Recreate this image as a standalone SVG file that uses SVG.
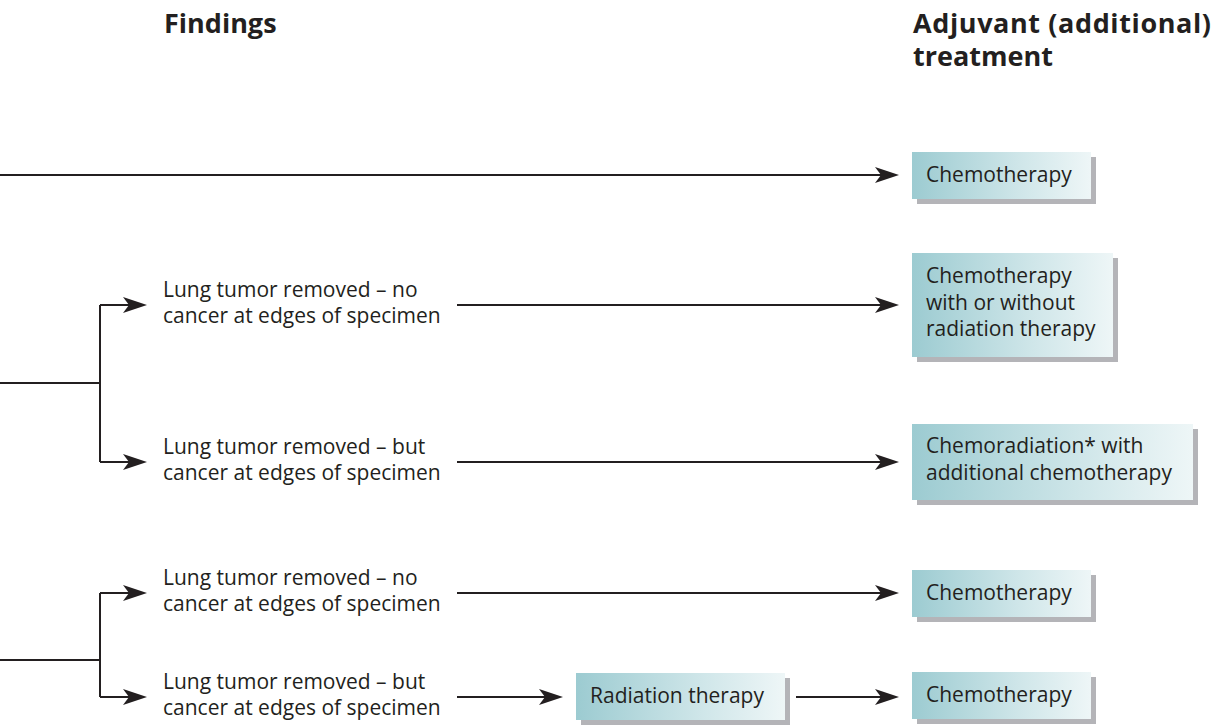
<svg xmlns="http://www.w3.org/2000/svg" width="1217" height="725" viewBox="0 0 1217 725">
<defs>
<linearGradient id="bg" x1="0" y1="0" x2="1" y2="0">
<stop offset="0" stop-color="#9ccbd1"/>
<stop offset="0.6" stop-color="#cfe6e9"/>
<stop offset="1" stop-color="#eef6f7"/>
</linearGradient>
<marker id="ah" markerUnits="userSpaceOnUse" markerWidth="26" markerHeight="18" refX="19" refY="8" orient="auto">
<path d="M0,0 L24,8 L0,16 L6,8 Z" fill="#231f20"/>
</marker>
</defs>
<style>
text{font-family:"Open Sans","Liberation Sans",sans-serif;fill:#231f20;font-size:21px}
.h{font-weight:bold;font-size:27px}
.ln{stroke:#231f20;stroke-width:2;fill:none}
.arr{marker-end:url(#ah)}
.sh{fill:#b4b4b8}
.bx{fill:url(#bg)}
</style>
<rect width="1217" height="725" fill="#ffffff"/>
<g id="headers">
<text class="h" x="164" y="33">Findings</text>
<text class="h" x="913" y="33" textLength="298" lengthAdjust="spacing">Adjuvant (additional)</text>
<text class="h" x="913" y="66">treatment</text>
</g>
<g id="connectors">
<path class="ln arr" d="M0,175 H894"/>
<path class="ln" d="M0,383 H100 M100,305 V462"/>
<path class="ln arr" d="M100,305 H142"/>
<path class="ln arr" d="M100,462 H142"/>
<path class="ln arr" d="M457,305 H894"/>
<path class="ln arr" d="M457,462 H894"/>
<path class="ln" d="M0,660 H100 M100,593 V697"/>
<path class="ln arr" d="M100,593 H142"/>
<path class="ln arr" d="M100,697 H142"/>
<path class="ln arr" d="M457,593 H894"/>
<path class="ln arr" d="M457,697 H558"/>
<path class="ln arr" d="M796,697 H894"/>
</g>
<g id="f1">
<text x="163" y="297">Lung tumor removed – no</text>
<text x="163" y="323">cancer at edges of specimen</text>
</g>
<g id="f2">
<text x="163" y="454">Lung tumor removed – but</text>
<text x="163" y="480">cancer at edges of specimen</text>
</g>
<g id="f3">
<text x="163" y="585">Lung tumor removed – no</text>
<text x="163" y="611">cancer at edges of specimen</text>
</g>
<g id="f4">
<text x="163" y="689">Lung tumor removed – but</text>
<text x="163" y="715">cancer at edges of specimen</text>
</g>
<g id="b1">
<rect class="sh" x="917" y="157" width="179" height="47"/>
<rect class="bx" x="912" y="152" width="179" height="47"/>
<text x="926" y="182">Chemotherapy</text>
</g>
<g id="b2">
<rect class="sh" x="917" y="258" width="201" height="104"/>
<rect class="bx" x="912" y="253" width="201" height="104"/>
<text x="926" y="283">Chemotherapy</text>
<text x="926" y="310">with or without</text>
<text x="926" y="336">radiation therapy</text>
</g>
<g id="b3">
<rect class="sh" x="917" y="429" width="281" height="76"/>
<rect class="bx" x="912" y="424" width="281" height="76"/>
<text x="926" y="453">Chemoradiation* with</text>
<text x="926" y="480">additional chemotherapy</text>
</g>
<g id="b4">
<rect class="sh" x="917" y="575" width="179" height="47"/>
<rect class="bx" x="912" y="570" width="179" height="47"/>
<text x="926" y="600">Chemotherapy</text>
</g>
<g id="b5">
<rect class="sh" x="581" y="678" width="209" height="47"/>
<rect class="bx" x="576" y="673" width="209" height="47"/>
<text x="590" y="703">Radiation therapy</text>
</g>
<g id="b6">
<rect class="sh" x="917" y="677" width="179" height="47"/>
<rect class="bx" x="912" y="672" width="179" height="47"/>
<text x="926" y="702">Chemotherapy</text>
</g>
</svg>
